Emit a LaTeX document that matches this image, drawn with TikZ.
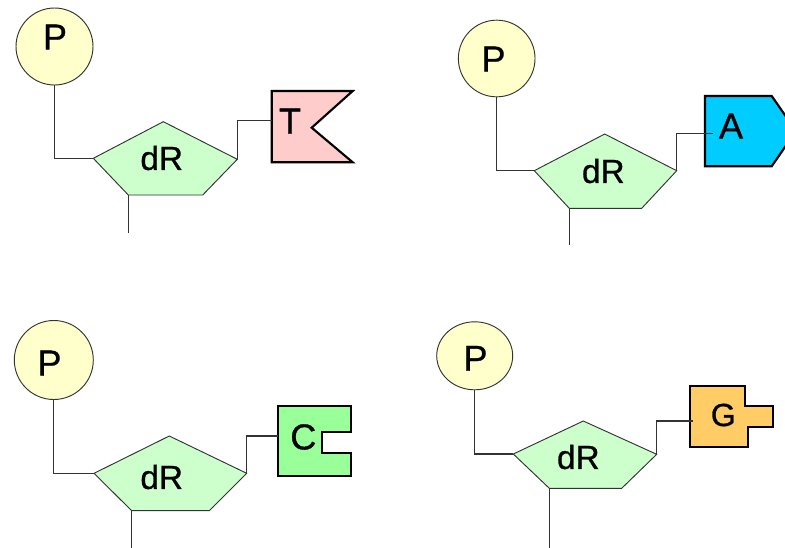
\documentclass[tikz,border=0pt]{standalone}
\usepackage{fontspec}
\setmainfont{Liberation Sans}
\newfontfamily\lblfont{Liberation Sans}[FakeBold=0.8]
\usetikzlibrary{shapes.geometric}
\definecolor{pfill}{HTML}{FFFFCC}
\definecolor{sfill}{HTML}{CCFFCC}
\definecolor{tfill}{HTML}{FFCCCC}
\definecolor{afill}{HTML}{00CCFF}
\definecolor{cfill}{HTML}{99FF99}
\definecolor{gfill}{HTML}{FFCC66}
\definecolor{linegray}{HTML}{333333}
\begin{document}
\begin{tikzpicture}[x=0.75pt,y=-0.75pt,
  phos/.style={circle,draw=linegray,line width=0.7pt,fill=pfill,inner sep=0pt},
  sugar/.style={draw=linegray,line width=0.7pt,fill=sfill,line join=miter},
  base/.style={draw=black,line width=1.6pt,line join=miter},
  bond/.style={draw=linegray,line width=0.85pt},
  lbl/.style={inner sep=0pt,anchor=center,font=\lblfont\fontsize{27}{27}\selectfont},
  slbl/.style={inner sep=0pt,anchor=center,font=\lblfont\fontsize{25}{25}\selectfont},
]
\useasboundingbox (0,0) rectangle (785,547);
\clip (0,0) rectangle (785,547);

% ---------- Quadrant 1: T ----------
\node[phos,minimum size=57.75pt] (p1) at (54.5,46.5) {};
\node[lbl] (p1t) at (55,37) {P};
\coordinate (d1l) at (93.3,158.3);
\coordinate (d1t) at (163.3,121.7);
\coordinate (d1r) at (237.3,159.3);
\coordinate (d1br) at (202.7,195);
\coordinate (d1bl) at (128.3,195);
\coordinate (e1) at (128.3,233.3);
\draw[sugar] (d1l) -- (d1t) -- (d1r) -- (d1br) -- (d1bl) -- cycle;
\node[slbl] (dr1) at (161.7,158) {dR};
\draw[bond] (p1.south) |- (d1l);
\draw[bond] (d1bl) -- (e1);
\coordinate (t1a) at (271.7,120.7);
\draw[base,fill=tfill] (271.7,91) -- (352.7,91) -- (311.7,127.7) -- (352.7,162.3) -- (271.7,162.3) -- cycle;
\node[lbl] (t1) at (290,121) {T};
\draw[bond] (d1r) |- (t1a);

% ---------- Quadrant 2: A ----------
\node[phos,minimum size=57.5pt] (p2) at (496.7,58.5) {};
\node[lbl] (p2t) at (493.5,59) {P};
\coordinate (d2l) at (534.3,170.7);
\coordinate (d2t) at (604.7,134);
\coordinate (d2r) at (676.7,170.7);
\coordinate (d2br) at (641.7,208.3);
\coordinate (d2bl) at (569.3,208.3);
\coordinate (e2) at (569.3,245);
\draw[sugar] (d2l) -- (d2t) -- (d2r) -- (d2br) -- (d2bl) -- cycle;
\node[slbl] (dr2) at (603.3,171) {dR};
\draw[bond] (p2.south) |- (d2l);
\draw[bond] (d2bl) -- (e2);
\draw[base,fill=afill] (705,96) -- (771.7,96) -- (796,131) -- (771.7,166.3) -- (705,166.3) -- cycle;
\coordinate (a2a) at (712.7,133.3);
\node[lbl] (a2) at (731,126) {A};
\draw[bond] (d2r) |- (a2a);

% ---------- Quadrant 3: C ----------
\node[phos,minimum size=59.25pt] (p3) at (53.8,360) {};
\node[lbl] (p3t) at (49.5,363) {P};
\coordinate (d3l) at (94,473.3);
\coordinate (d3t) at (169.3,436);
\coordinate (d3r) at (246.7,473.3);
\coordinate (d3br) at (209.3,510.7);
\coordinate (d3bl) at (131.7,510.7);
\coordinate (e3) at (131.7,548);
\draw[sugar] (d3l) -- (d3t) -- (d3r) -- (d3br) -- (d3bl) -- cycle;
\node[slbl] (dr3) at (161.7,477) {dR};
\draw[bond] (p3.south) |- (d3l);
\draw[bond] (d3bl) -- (e3);
\coordinate (c3a) at (278.3,436);
\draw[base,fill=cfill] (278.3,406) -- (351,406) -- (351,431.7) -- (321.7,431.7) -- (321.7,453.3) -- (351,453.3) -- (351,476) -- (278.3,476) -- cycle;
\node[lbl] (c3) at (303.3,437) {C};
\draw[bond] (d3r) |- (c3a);

% ---------- Quadrant 4: G ----------
\node[ellipse,draw=linegray,line width=0.7pt,fill=pfill,inner sep=0pt,minimum width=57pt,minimum height=51pt] (p4) at (474.7,355.8) {};
\node[lbl] (p4t) at (475.5,358.3) {P};
\coordinate (d4l) at (513.3,454);
\coordinate (d4t) at (583.3,421);
\coordinate (d4r) at (656.7,454.3);
\coordinate (d4br) at (621.7,488.3);
\coordinate (d4bl) at (549.3,488.3);
\coordinate (e4) at (549.3,548);
\draw[sugar] (d4l) -- (d4t) -- (d4r) -- (d4br) -- (d4bl) -- cycle;
\node[slbl] (dr4) at (578.3,457) {dR};
\draw[bond] (p4.south) |- (d4l);
\draw[bond] (d4bl) -- (e4);
\draw[base,fill=gfill] (690,386) -- (745,386) -- (745,406) -- (773.3,406) -- (773.3,426.7) -- (748.3,426.7) -- (748.3,446.7) -- (690,446.7) -- cycle;
\coordinate (g4a) at (693.3,421);
\node[lbl,font=\lblfont\fontsize{24}{24}\selectfont] (g4) at (723.3,415) {G};
\draw[bond] (d4r) |- (g4a);
\end{tikzpicture}
\end{document}
